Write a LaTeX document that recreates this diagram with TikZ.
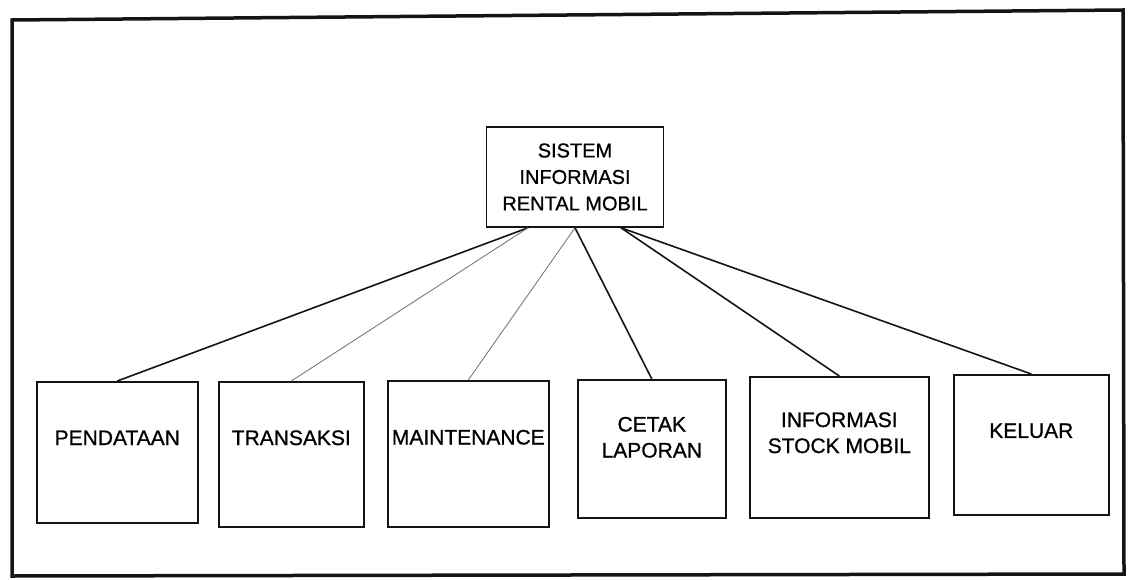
\documentclass[tikz,border=0pt]{standalone}
\usepackage{fontspec}
\setmainfont{Liberation Sans}[FakeBold=0.8]
\usepackage{xcolor}
\usepackage{tikz}
\usetikzlibrary{positioning,calc}
\definecolor{sline}{RGB}{20,20,20}
\definecolor{sfaint}{RGB}{125,120,125}

\begin{document}
\begin{tikzpicture}[x=1pt,y=-1pt,font=\fontsize{21}{26}\selectfont,
  menubox/.style={draw=sline,line width=1.6pt,anchor=north west,inner sep=0pt},
  link/.style={draw=sline,line width=1.6pt},
  faint/.style={draw=sfaint,line width=0.9pt}]
\useasboundingbox (0,0) rectangle (1129,580);
\draw[sline,line width=3.5pt] (12,20)--(1123,10)--(1124,574)--(12,576)--cycle;
\node[draw=sline,line width=1.6pt,minimum width=177pt,minimum height=100pt,
  align=center,font=\fontsize{20}{26.5}\selectfont] (sim) at (575,177)
  {SISTEM\\INFORMASI\\RENTAL MOBIL};
\coordinate (simL) at ($(sim.south)+(-47,0)$);
\coordinate (simC) at (sim.south);
\coordinate (simR) at ($(sim.south)+(46,0)$);
\foreach \lab/\xl/\xr/\yt/\yb/\up/\src/\sty [count=\i] in {%
  PENDATAAN/36/197/381/522/14.5/simL/link,
  TRANSAKSI/218/363/381/526/16.5/simL/faint,
  MAINTENANCE/387/548/380/526/16.5/simC/faint,
  {CETAK\\LAPORAN}/577/725/379/517/11.5/simC/link,
  {INFORMASI\\STOCK MOBIL}/749/928/376/517/14.5/simR/link,
  KELUAR/953/1108/374/514/14/simR/link}{%
  \node[menubox,minimum width={\xr-\xl},minimum height={\yb-\yt}] (m\i) at (\xl,\yt) {};
  \node[align=center] (t\i) at ($(m\i.center)+(0,-\up)$) {\lab};
  \draw[\sty] (\src) -- (m\i.north);
}
\end{tikzpicture}
\end{document}
